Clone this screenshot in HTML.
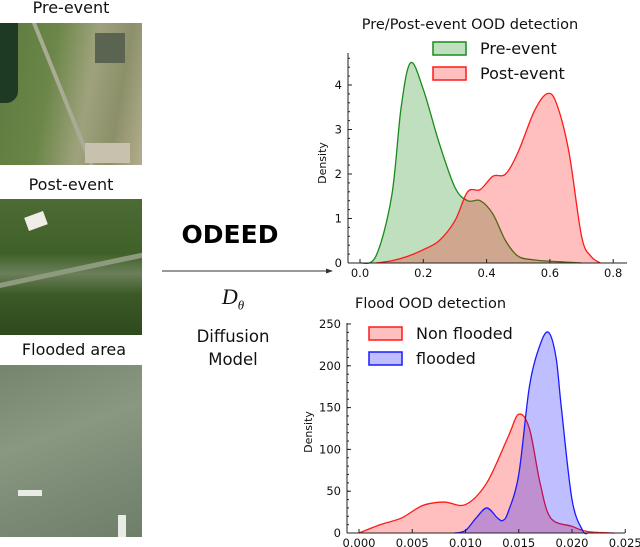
<!DOCTYPE html>
<html><head><meta charset="utf-8"><style>
body{margin:0;width:640px;height:547px;background:#fff;overflow:hidden;font-family:"DejaVu Sans","Liberation Sans",sans-serif;position:relative}
.t{position:absolute;color:#111;white-space:nowrap}
.img{position:absolute;left:0;width:142px;overflow:hidden}
</style></head><body>
<div class="t" style="left:0;width:142px;text-align:center;top:-2px;font-size:16px">Pre-event</div>
<div class="img" style="top:23px;height:142px;background:linear-gradient(100deg,#5e7a3f 0%,#6b8648 35%,#9fa27c 60%,#8c9069 80%,#b3ad8e 100%)">
<div style="position:absolute;left:0;top:0;width:18px;height:80px;background:#1e3a25;border-radius:0 0 12px 0"></div>
<div style="position:absolute;left:28px;top:-10px;width:4px;height:170px;background:#a9ab95;transform:rotate(-22deg);transform-origin:top"></div>
<div style="position:absolute;left:95px;top:10px;width:30px;height:30px;background:#5a6450"></div>
<div style="position:absolute;left:85px;top:120px;width:45px;height:20px;background:#c7c1ad"></div></div>
<div class="t" style="left:0;width:142px;text-align:center;top:175px;font-size:16px">Post-event</div>
<div class="img" style="top:199px;height:136px;background:linear-gradient(180deg,#4d6b34 0%,#3f6128 40%,#6b7f5a 55%,#3b5a25 70%,#2f4a1e 100%)">
<div style="position:absolute;left:26px;top:15px;width:20px;height:14px;background:#f0ece8;transform:rotate(-20deg)"></div>
<div style="position:absolute;left:-10px;top:68px;width:170px;height:5px;background:#8d9a7e;transform:rotate(-12deg)"></div></div>
<div class="t" style="left:0;width:148px;text-align:center;top:340px;font-size:16px">Flooded area</div>
<div class="img" style="top:365px;height:172px;background:linear-gradient(160deg,#75856c 0%,#8a9882 40%,#7b8a74 70%,#6f7e69 100%)">
<div style="position:absolute;left:18px;top:125px;width:24px;height:6px;background:#e8ebe6"></div>
<div style="position:absolute;left:118px;top:150px;width:8px;height:22px;background:#e8ebe6"></div></div>
<div class="t" style="left:160px;width:140px;text-align:center;top:220px;font-size:25px;font-weight:bold;color:#000">ODEED</div>
<svg style="position:absolute;left:0;top:0" width="640" height="547"><line x1="162" y1="271" x2="329" y2="271" stroke="#333" stroke-width="1"/><polygon points="333,271 326,268.5 326,273.5" fill="#333"/></svg>
<div class="t" style="left:160px;width:146px;text-align:center;top:284px;font-size:22px;font-style:italic;font-family:'Liberation Serif',serif">D<sub style="font-size:13px">θ</sub></div>
<div class="t" style="left:160px;width:146px;text-align:center;top:325px;font-size:16.5px;line-height:23px">Diffusion<br>Model</div>
<svg id="c" style="position:absolute;left:0;top:0" width="640" height="547"></svg>
<script>
const topX=[0.0,0.05,0.1,0.13,0.16,0.2,0.25,0.3,0.34,0.38,0.42,0.46,0.5,0.55,0.6,0.65,0.7];
const preVals=[0,0.15,1.5,3.5,4.5,3.9,2.7,1.7,1.4,1.4,1.1,0.5,0.15,0.07,0.04,0.02,0];
const postX=[0.05,0.1,0.15,0.2,0.25,0.3,0.34,0.38,0.42,0.46,0.5,0.55,0.59,0.62,0.66,0.7,0.73,0.76];
const postVals=[0,0.05,0.15,0.3,0.5,0.95,1.6,1.65,1.95,2.0,2.5,3.4,3.8,3.6,2.5,0.6,0.15,0];
const topXTicks=["0.0","0.2","0.4","0.6","0.8"];
const topYTicks=["0","1","2","3","4"];
const nfX=[0,0.002,0.004,0.006,0.008,0.010,0.012,0.014,0.015,0.016,0.017,0.018,0.020,0.021,0.022,0.024];
const nfVals=[0,10,18,33,37,34,60,115,142,125,60,18,8,3,1,0];
const fX=[0.009,0.010,0.011,0.012,0.013,0.0135,0.014,0.015,0.016,0.017,0.0178,0.0185,0.019,0.020,0.021,0.0215];
const fVals=[0,3,18,30,18,15,25,70,175,225,240,210,150,40,3,0];
const botXTicks=["0.000","0.005","0.010","0.015","0.020","0.025"];
const botYTicks=["0","50","100","150","200","250"];
const svg=document.getElementById('c');const NS='http://www.w3.org/2000/svg';
function mk(tag,a,txt){const e=document.createElementNS(NS,tag);for(const k in a)e.setAttribute(k,a[k]);if(txt!==undefined)e.textContent=txt;svg.appendChild(e);return e;}
function path(xs,ys,sx,sy){const p=xs.map((x,i)=>[sx(x),sy(ys[i])]);let d='M'+p[0][0]+','+p[0][1];
for(let i=0;i<p.length-1;i++){const p0=p[i-1]||p[i],p1=p[i],p2=p[i+1],p3=p[i+2]||p2;
d+=' C'+(p1[0]+(p2[0]-p0[0])/6)+','+(p1[1]+(p2[1]-p0[1])/6)+' '+(p2[0]-(p3[0]-p1[0])/6)+','+(p2[1]-(p3[1]-p1[1])/6)+' '+p2[0]+','+p2[1];}return d;}
function axes(ax,x0,y0,xt,yt,sx,sy,yTop,xRight,minorY){
 const ya=mk('line',{x1:ax,y1:yTop,x2:ax,y2:y0,stroke:'#222'});
 const xa=mk('line',{x1:ax,y1:y0,x2:xRight,y2:y0,stroke:'#222'});
 xt.forEach(t=>{const x=sx(+t);mk('line',{x1:x,y1:y0,x2:x,y2:y0-4,stroke:'#222'});const e=mk('text',{x:x,y:y0+14,'font-size':11.5,'text-anchor':'middle',fill:'#111'},t);});
 yt.forEach(t=>{const y=sy(+t);mk('line',{x1:ax,y1:y,x2:ax+4,y2:y,stroke:'#222'});const e=mk('text',{x:ax-6,y:y+4,'font-size':11.5,'text-anchor':'end',fill:'#111'},t);});
 for(let v=0;sy(v)>yTop;v+=minorY){mk('line',{x1:ax,y1:sy(v),x2:ax+2,y2:sy(v),stroke:'#222'});}
}
function series(xs,ys,sx,sy,y0,stroke,fill,name){const d=path(xs,ys,sx,sy);
 const f=mk('path',{d:d+' L'+sx(xs[xs.length-1])+','+y0+' L'+sx(xs[0])+','+y0+'Z',fill:fill,stroke:'none'});
 const l=mk('path',{d:d,fill:'none',stroke:stroke,'stroke-width':1.3});}
function legend(x,y,stroke,fill,label){const r=mk('rect',{x:x,y:y,width:33,height:13,fill:fill,stroke:stroke,'stroke-width':1.5});
 const t=mk('text',{x:x+47,y:y+12,'font-size':16,fill:'#111'},label);}
// top chart
const tsx=v=>360+v*316.5, tsy=v=>263-v*44.5;
const tt=mk('text',{x:470,y:29,'font-size':14.5,'text-anchor':'middle',fill:'#111'},'Pre/Post-event OOD detection');
series(topX,preVals,tsx,tsy,263,'#1a8a1a','rgba(0,128,0,0.25)','pre-event');
series(postX,postVals,tsx,tsy,263,'#ff1a1a','rgba(255,0,0,0.25)','post-event');
axes(348,360,263,topXTicks,topYTicks,tsx,tsy,53,627,0.2);
const yl1=mk('text',{x:0,y:0,'font-size':11,'text-anchor':'middle',fill:'#111',transform:'translate(326,163) rotate(-90)'},'Density');
legend(433,42,'#1a8a1a','rgba(0,128,0,0.25)','Pre-event');legend(433,67,'#ff1a1a','rgba(255,0,0,0.25)','Post-event');
// bottom chart
const bsx=v=>359+v*10650, bsy=v=>533-v*0.836;
const bt=mk('text',{x:355,y:308,'font-size':14.5,fill:'#111'},'Flood OOD detection');
series(nfX,nfVals,bsx,bsy,533,'#ff1a1a','rgba(255,0,0,0.25)','non-flooded');
series(fX,fVals,bsx,bsy,533,'#1a1aff','rgba(0,0,255,0.25)','flooded');
axes(347,359,533,botXTicks,botYTicks,bsx,bsy,323,625,10);
const yl2=mk('text',{x:0,y:0,'font-size':11,'text-anchor':'middle',fill:'#111',transform:'translate(312,432) rotate(-90)'},'Density');
legend(369,327,'#ff1a1a','rgba(255,0,0,0.25)','Non flooded');legend(369,352,'#1a1aff','rgba(0,0,255,0.25)','flooded');
</script>
</body></html>
